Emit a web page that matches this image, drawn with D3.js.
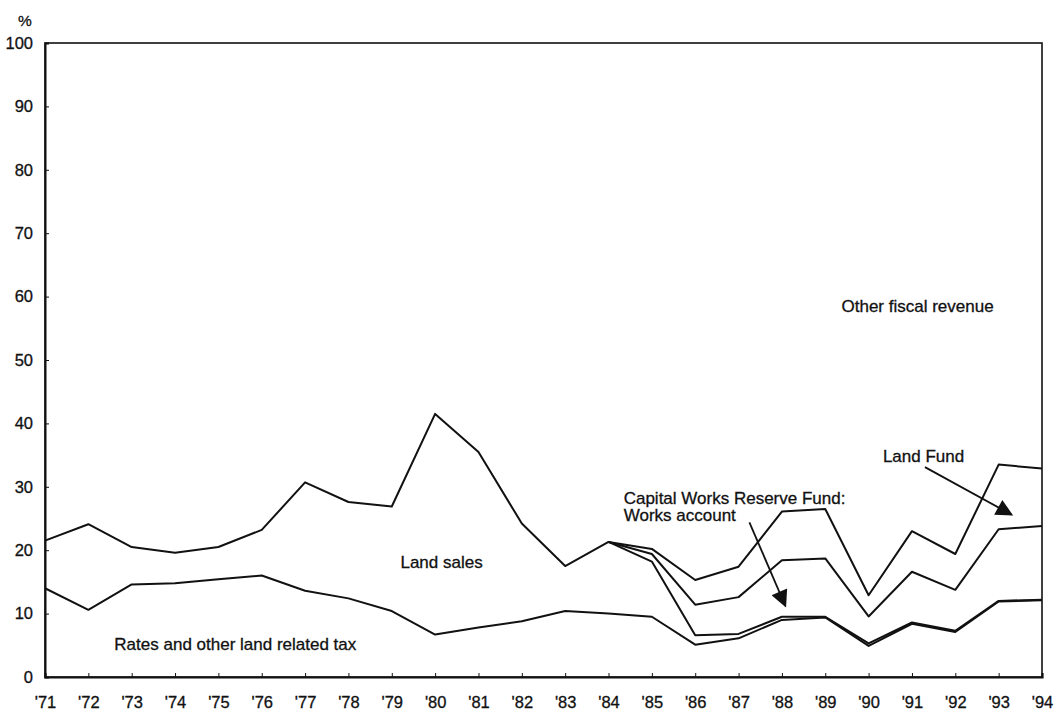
<!DOCTYPE html>
<html lang="en">
<head>
  <meta charset="UTF-8">
  <title>Land related revenue as share of fiscal revenue</title>
  <style>
    body { margin: 0; background: #fff; }
    svg text { font-family: "Liberation Sans", Arial, Helvetica, sans-serif; fill: #111; stroke: #111; stroke-width: 0.3; }
    .line { fill: none; stroke: #111; stroke-width: 2; stroke-linejoin: round; }
    .axis path, .axis line { stroke: #111; }
  </style>
</head>
<body>
  <svg id="chart" width="1054" height="711"></svg>

  <script src="https://d3js.org/d3.v7.min.js"></script>
  <script>
    // years on the x axis and their tick labels
    const years = d3.range(1971, 1995);
    const yearLabels = years.map(y => "'" + String(y).slice(2));
    const yTicks = [0, 10, 20, 30, 40, 50, 60, 70, 80, 90, 100];

    // share of fiscal revenue (%), per component, stacked bottom to top
    const rates     = [14.0, 10.6, 14.6, 14.8, 15.4, 16.0, 13.6, 12.4, 10.4, 6.7, 7.8, 8.8, 10.4, 10.0, 9.5, 5.1, 6.1, 9.0, 9.4, 4.9, 8.4, 7.1, 11.9, 12.1];
    const landSales = [7.5, 13.5, 5.9, 4.8, 5.1, 7.2, 17.1, 15.2, 16.5, 34.8, 27.7, 15.4, 7.1, 11.3, 8.7, 1.5, 0.7, 0.5, 0.1, 0.4, 0.2, 0.2, 0.1, 0.1];
    const cwrf      = [null, null, null, null, null, null, null, null, null, null, null, null, null, 0, 1.2, 4.8, 5.8, 8.9, 9.2, 4.25, 8.0, 6.45, 11.3, 11.6];
    const landFund  = [null, null, null, null, null, null, null, null, null, null, null, null, null, 0, 0.8, 3.9, 4.8, 7.7, 7.8, 3.35, 6.4, 5.65, 10.2, 9.1];

    const keys = ["rates", "landSales", "cwrf", "landFund"];
    const rows = years.map((y, i) => ({
      year: y,
      rates: rates[i],
      landSales: landSales[i],
      cwrf: cwrf[i],
      landFund: landFund[i]
    }));

    const width = 1054;
    const height = 711;
    const margin = { top: 43, right: 12, bottom: 34, left: 45 };

    const svg = d3.select("#chart");

    const x = d3.scaleLinear()
      .domain([1971, 1994])
      .range([margin.left, width - margin.right]);

    const y = d3.scaleLinear()
      .domain([0, 100])
      .range([height - margin.bottom, margin.top]);

    const series = d3.stack()
      .keys(keys)
      .value((d, key) => d[key] == null ? 0 : d[key])(rows);

    // frame (top and right edges)
    svg.append("rect")
      .attr("x", x(1971))
      .attr("y", y(100))
      .attr("width", x(1994) - x(1971))
      .attr("height", y(0) - y(100))
      .attr("fill", "none")
      .attr("stroke", "#111")
      .attr("stroke-width", 1.6);

    // axes
    const yAxis = svg.append("g")
      .attr("class", "axis")
      .attr("transform", `translate(${x(1971)},0)`)
      .call(d3.axisLeft(y).tickValues(yTicks).tickSize(-4).tickPadding(12));
    yAxis.select(".domain").attr("stroke-width", 2);
    yAxis.selectAll("text").attr("font-size", "16.5px");

    const xAxis = svg.append("g")
      .attr("class", "axis")
      .attr("transform", `translate(0,${y(0)})`)
      .call(d3.axisBottom(x).tickValues(years).tickFormat((d, i) => yearLabels[i]).tickSize(-4).tickPadding(19));
    xAxis.select(".domain").attr("stroke-width", 2.2);
    xAxis.selectAll("text").attr("font-size", "16.5px");

    svg.append("text")
      .attr("x", 25)
      .attr("y", 26)
      .attr("text-anchor", "middle")
      .attr("font-size", "15.5px")
      .text("%");

    // top edge of each stacked layer
    const line = d3.line()
      .defined(d => d.data[d.key] != null)
      .x(d => x(d.data.year))
      .y(d => y(d[1]));

    svg.append("g")
      .selectAll("path")
      .data(series)
      .join("path")
      .attr("class", "line")
      .attr("d", s => line(s.map(d => Object.assign(d, { key: s.key }))));

    // arrowhead
    svg.append("defs").append("marker")
      .attr("id", "head")
      .attr("viewBox", "0 0 10 10")
      .attr("refX", 9)
      .attr("refY", 5)
      .attr("markerWidth", 19)
      .attr("markerHeight", 17)
      .attr("markerUnits", "userSpaceOnUse")
      .attr("orient", "auto")
      .append("path")
      .attr("d", "M0,0 L10,5 L0,10 Z")
      .attr("fill", "#111");

    // annotations, placed in data units
    const labels = [
      { text: "Other fiscal revenue", year: 1991.13, value: 58.5, anchor: "middle" },
      { text: "Land Fund", year: 1990.33, value: 34.8, anchor: "start" },
      { text: "Capital Works Reserve Fund:", year: 1984.35, value: 28.3, anchor: "start" },
      { text: "Works account", year: 1984.35, value: 25.5, anchor: "start" },
      { text: "Land sales", year: 1979.2, value: 18.2, anchor: "start" },
      { text: "Rates and other land related tax", year: 1972.6, value: 5.2, anchor: "start" }
    ];

    svg.append("g")
      .selectAll("text")
      .data(labels)
      .join("text")
      .attr("x", d => x(d.year))
      .attr("y", d => y(d.value))
      .attr("dy", "0.35em")
      .attr("text-anchor", d => d.anchor)
      .attr("font-size", "17px")
      .text(d => d.text);

    const arrows = [
      { from: [1991.3, 33.1], to: [1993.3, 25.6] },
      { from: [1987.25, 24.4], to: [1988.08, 11.2] }
    ];

    svg.append("g")
      .selectAll("line")
      .data(arrows)
      .join("line")
      .attr("x1", d => x(d.from[0]))
      .attr("y1", d => y(d.from[1]))
      .attr("x2", d => x(d.to[0]))
      .attr("y2", d => y(d.to[1]))
      .attr("stroke", "#111")
      .attr("stroke-width", 1.8)
      .attr("marker-end", "url(#head)");
  </script>
</body>
</html>
